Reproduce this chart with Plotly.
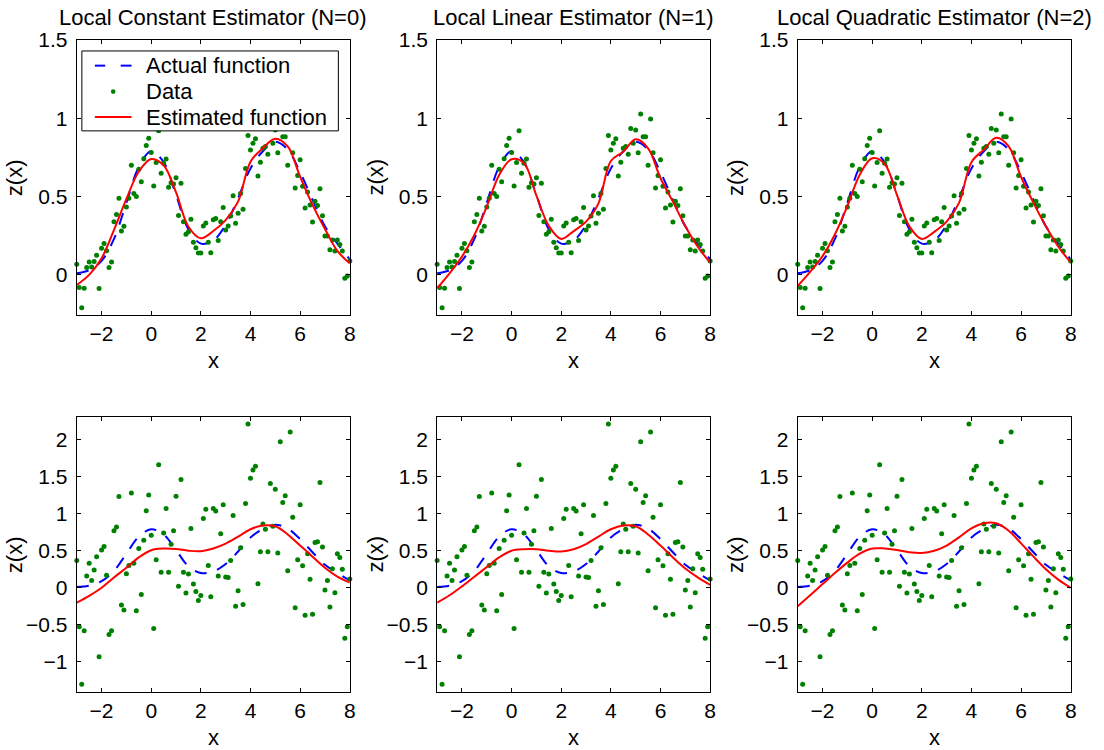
import plotly.graph_objects as go

# ---------------- data ----------------
x_data = [-3.0, -2.9, -2.8, -2.7, -2.6, -2.5, -2.4, -2.3, -2.2, -2.1,
          -2.0, -1.9, -1.8, -1.7, -1.6, -1.5, -1.4, -1.3, -1.2, -1.1,
          -1.0, -0.9, -0.8, -0.7, -0.6, -0.5, -0.4, -0.3, -0.2, -0.1,
          0.0, 0.1, 0.2, 0.3, 0.4, 0.5, 0.6, 0.7, 0.8, 0.9,
          1.0, 1.1, 1.2, 1.3, 1.4, 1.5, 1.6, 1.7, 1.8, 1.9,
          2.0, 2.1, 2.2, 2.3, 2.4, 2.5, 2.6, 2.7, 2.8, 2.9,
          3.0, 3.1, 3.2, 3.3, 3.4, 3.5, 3.6, 3.7, 3.8, 3.9,
          4.0, 4.1, 4.2, 4.3, 4.4, 4.5, 4.6, 4.7, 4.8, 4.9,
          5.0, 5.1, 5.2, 5.3, 5.4, 5.5, 5.6, 5.7, 5.8, 5.9,
          6.0, 6.1, 6.2, 6.3, 6.4, 6.5, 6.6, 6.7, 6.8, 6.9,
          7.0, 7.1, 7.2, 7.3, 7.4, 7.5, 7.6, 7.7, 7.8, 7.9,
          8.0]

y_top = [0.068, -0.081, -0.21, -0.085, 0.047, 0.083, 0.051, 0.085, 0.125, -0.087,
         0.17, 0.20, 0.155, 0.047, 0.083, 0.34, 0.385, 0.489, 0.28, 0.31,
         0.434, 0.49, 0.70, 0.52, 0.50, 0.675, 0.595, 0.742, 0.826, 0.873,
         0.782, 0.568, 0.717, 0.92, 0.649, 0.713, 0.74, 0.56, 0.589, 0.58,
         0.62, 0.38, 0.585, 0.34, 0.26, 0.276, 0.355, 0.208, 0.174, 0.14,
         0.14, 0.313, 0.332, 0.208, 0.142, 0.353, 0.36, 0.22, 0.34, 0.43,
         0.287, 0.313, 0.376, 0.506, 0.33, 0.393, 0.52, 0.42, 0.68, 0.89,
         0.797, 0.84, 0.87, 0.632, 0.72, 0.808, 0.82, 0.77, 0.934, 0.84,
         0.925, 0.78, 1.027, 0.882, 0.882, 0.70, 0.995, 0.78, 0.555, 0.634,
         0.736, 0.566, 0.427, 0.53, 0.446, 0.338, 0.47, 0.443, 0.55, 0.378,
         0.249, 0.249, 0.161, 0.223, 0.152, 0.223, 0.195, 0.152, -0.022, -0.007,
         0.089]

y_bot = [0.37, -0.525, -1.30, -0.58, 0.16, 0.33, 0.10, 0.24, 0.42, -0.93,
         0.51, 0.556, 0.17, -0.63, -0.58, 0.77, 0.82, 1.23, -0.23, -0.30,
         0.19, 0.30, 1.28, 0.33, -0.31, 0.53, -0.09, 0.64, 1.04, 1.25,
         0.71, -0.55, 0.38, 1.66, 0.21, 0.74, 1.07, 0.21, 0.587, 0.77,
         1.236, 0.02, 1.46, 0.21, -0.07, 0.185, 0.80, 0.05, -0.05, -0.17,
         -0.105, 0.935, 1.06, 0.30, -0.12, 1.07, 1.035, 0.16, 0.73, 1.12,
         0.145, 0.14, 0.37, 0.976, -0.25, -0.04, 0.54, -0.225, 1.137, 2.21,
         1.477, 1.59, 1.638, 0.056, 0.485, 0.86, 0.79, 0.485, 1.405, 0.83,
         1.33, 0.47, 1.97, 1.15, 1.24, 0.23, 2.10, 0.95, -0.27, 0.378,
         1.12, 0.297, -0.37, 0.46, 0.114, -0.355, 0.61, 0.62, 1.42, 0.55,
         -0.03, 0.10, -0.26, 0.257, -0.065, 0.46, 0.41, 0.25, -0.68, -0.525,
         0.118]

x_curve = [-3.0, -2.5, -2.0, -1.5, -1.0, -0.5, 0.0, 0.5, 1.0, 1.5, 2.0, 2.5,
           3.0, 3.5, 4.0, 4.5, 5.0, 5.5, 6.0, 6.5, 7.0, 7.5, 8.0]

actual = [0.01, 0.03, 0.09, 0.23, 0.46, 0.69, 0.79, 0.72, 0.51, 0.29, 0.20, 0.22,
          0.32, 0.49, 0.68, 0.79, 0.85, 0.80, 0.655, 0.48, 0.31, 0.20, 0.10]

est_top_n0 = [-0.064, 0.0, 0.106, 0.287, 0.485, 0.66, 0.74, 0.70, 0.527, 0.308, 0.234, 0.28,
              0.35, 0.468, 0.723, 0.81, 0.87, 0.82, 0.627, 0.447, 0.293, 0.153, 0.074]
est_top_n1 = [-0.085, 0.01, 0.117, 0.255, 0.436, 0.638, 0.738, 0.713, 0.506, 0.313, 0.23, 0.28,
              0.34, 0.457, 0.727, 0.787, 0.866, 0.808, 0.617, 0.468, 0.31, 0.18, 0.079]
est_top_n2 = [-0.07, 0.02, 0.12, 0.26, 0.44, 0.64, 0.745, 0.71, 0.51, 0.31, 0.23, 0.275,
              0.34, 0.46, 0.72, 0.80, 0.875, 0.82, 0.625, 0.46, 0.31, 0.18, 0.08]

est_bot_n0 = [-0.20, -0.11, 0.0, 0.14, 0.27, 0.41, 0.507, 0.53, 0.524, 0.50, 0.493, 0.53,
              0.596, 0.69, 0.79, 0.84, 0.83, 0.72, 0.57, 0.42, 0.27, 0.15, 0.07]
est_bot_n1 = [-0.20, -0.10, 0.02, 0.15, 0.28, 0.41, 0.50, 0.52, 0.52, 0.50, 0.49, 0.52,
              0.59, 0.69, 0.79, 0.84, 0.83, 0.72, 0.57, 0.41, 0.26, 0.14, 0.04]
est_bot_n2 = [-0.25, -0.10, 0.05, 0.20, 0.34, 0.46, 0.53, 0.53, 0.51, 0.48, 0.47, 0.50,
              0.57, 0.68, 0.80, 0.87, 0.87, 0.77, 0.60, 0.42, 0.25, 0.11, 0.0]

titles = ["Local Constant Estimator (N=0)", "Local Linear Estimator (N=1)",
          "Local Quadratic Estimator (N=2)"]
legend_labels = ["Actual function", "Data", "Estimated function"]
x_ticks = [-2, 0, 2, 4, 6, 8]
y_ticks_top = [0, 0.5, 1, 1.5]
y_ticks_bot = [-1, -0.5, 0, 0.5, 1, 1.5, 2]

# ---------------- layout geometry (target pixels in the photo) ----------------
W, H = 1104, 750
SX, BX = 0.9938, 0.9     # compensation for how the page is photographed
SY, BY = 0.9851, 10.3


def PX(px):
    return ((px - BX) / SX) / W


def PY(py):
    return 1 - ((py - BY) / SY) / H


col_px = [(77.6, 350.4), (437.7, 710.5), (798.0, 1070.8)]
row_px = [(38.3, 313.5), (415.7, 691.0)]
FONT = "Liberation Sans, Arial, Helvetica, sans-serif"
FS_TICK = 21
FS_TXT = 22

BLUE = "#0000FF"
RED = "#FF0000"
GREEN = "#008000"

fig = go.Figure()
layout_axes = {}

panels = [
    (0, 0, y_top, est_top_n0), (0, 1, y_top, est_top_n1), (0, 2, y_top, est_top_n2),
    (1, 0, y_bot, est_bot_n0), (1, 1, y_bot, est_bot_n1), (1, 2, y_bot, est_bot_n2),
]

annotations = []
for i, (r, c, ydat, est) in enumerate(panels):
    n = i + 1
    xa = "x" if n == 1 else f"x{n}"
    ya = "y" if n == 1 else f"y{n}"
    fig.add_trace(go.Scatter(x=x_curve, y=actual, mode="lines", xaxis=xa, yaxis=ya,
                             line=dict(color=BLUE, width=2, dash="12px,11px", shape="spline", smoothing=1.0),
                             showlegend=False, name=legend_labels[0]))
    fig.add_trace(go.Scatter(x=x_data, y=ydat, mode="markers", xaxis=xa, yaxis=ya,
                             marker=dict(color=GREEN, size=5, line=dict(width=0)),
                             cliponaxis=False, showlegend=False, name=legend_labels[1]))
    fig.add_trace(go.Scatter(x=x_curve, y=est, mode="lines", xaxis=xa, yaxis=ya,
                             line=dict(color=RED, width=2, shape="spline", smoothing=1.0),
                             showlegend=False, name=legend_labels[2]))

    x0, x1 = col_px[c]
    y0, y1 = row_px[r]
    xkey = "xaxis" if n == 1 else f"xaxis{n}"
    ykey = "yaxis" if n == 1 else f"yaxis{n}"
    common = dict(showline=True, linecolor="black", linewidth=1, mirror="ticks",
                  ticks="inside", ticklen=4, tickcolor="black", showgrid=False,
                  zeroline=False, tickfont=dict(family=FONT, size=FS_TICK, color="black"))
    layout_axes[xkey] = dict(domain=[PX(x0), PX(x1)], anchor=ya, range=[-3, 8],
                             tickvals=x_ticks, **common)
    if r == 0:
        yr, yt = [-0.255, 1.5], y_ticks_top
    else:
        yr, yt = [-1.404, 2.304], y_ticks_bot
    layout_axes[ykey] = dict(domain=[PY(y1), PY(y0)], anchor=xa, range=yr,
                             tickvals=yt, ticklabelstandoff=4, **common)

    cx = (x0 + x1) / 2
    annotations.append(dict(text="x", xref="paper", yref="paper", x=PX(cx),
                            y=PY(y1 + 46), showarrow=False, xanchor="center",
                            yanchor="middle", font=dict(family=FONT, size=FS_TXT, color="black")))
    annotations.append(dict(text="z(x)", xref="paper", yref="paper", x=PX(x0 - 62),
                            y=PY((y0 + y1) / 2), showarrow=False, xanchor="center",
                            yanchor="middle", textangle=-90,
                            font=dict(family=FONT, size=FS_TXT, color="black")))
    if r == 0:
        annotations.append(dict(text=titles[c], xref="paper", yref="paper", x=PX(cx),
                                y=PY(16), showarrow=False, xanchor="center",
                                yanchor="middle", font=dict(family=FONT, size=FS_TXT, color="black")))

# ---------------- legend (drawn in top-left panel) ----------------
shapes = []
lx0, lx1, ly0, ly1 = 82.7, 339.0, 49.3, 129.3
shapes.append(dict(type="rect", xref="paper", yref="paper", x0=PX(lx0), x1=PX(lx1),
                   y0=PY(ly1), y1=PY(ly0), line=dict(color="black", width=1),
                   fillcolor="white", layer="above"))
ent_y = [64.0, 90.0, 115.5]
for (a, b) in [(95.7, 106.0), (121.5, 132.3)]:
    shapes.append(dict(type="line", xref="paper", yref="paper", x0=PX(a), x1=PX(b),
                       y0=PY(ent_y[0]), y1=PY(ent_y[0]),
                       line=dict(color=BLUE, width=2), layer="above"))
shapes.append(dict(type="circle", xref="paper", yref="paper", x0=PX(114.0 - 2.3),
                   x1=PX(114.0 + 2.3), y0=PY(ent_y[1] + 2.3), y1=PY(ent_y[1] - 2.3),
                   line=dict(color=GREEN, width=0), fillcolor=GREEN, layer="above"))
shapes.append(dict(type="line", xref="paper", yref="paper", x0=PX(95.7), x1=PX(132.3),
                   y0=PY(ent_y[2]), y1=PY(ent_y[2]),
                   line=dict(color=RED, width=2), layer="above"))
for lab, yy in zip(legend_labels, ent_y):
    annotations.append(dict(text=lab, xref="paper", yref="paper", x=PX(145.0),
                            y=PY(yy), showarrow=False, xanchor="left", yanchor="middle",
                            font=dict(family=FONT, size=FS_TXT, color="black")))

fig.update_layout(width=W, height=H, autosize=False,
                  margin=dict(l=0, r=0, t=0, b=0),
                  paper_bgcolor="white", plot_bgcolor="white",
                  showlegend=False, annotations=annotations, shapes=shapes,
                  font=dict(family=FONT, size=FS_TXT, color="black"),
                  **layout_axes)

fig.write_html("out.html")
